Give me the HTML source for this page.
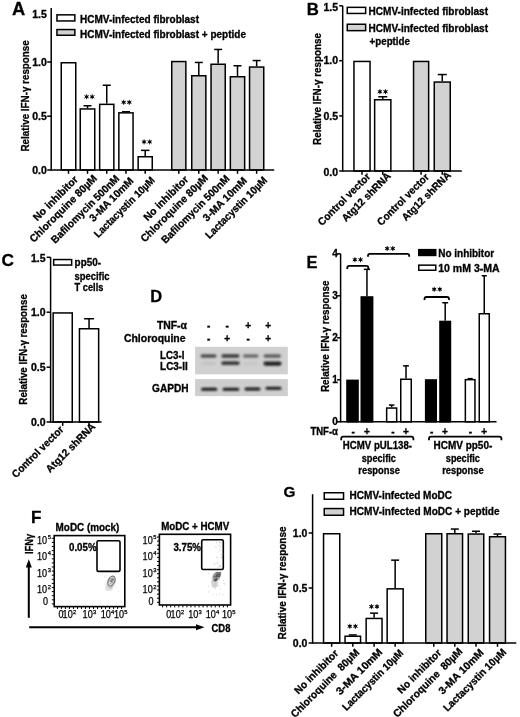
<!DOCTYPE html>
<html><head><meta charset="utf-8"><style>
html,body{margin:0;padding:0;background:#fff;}
svg{display:block;will-change:transform;filter:blur(0.3px);}
text{font-family:"Liberation Sans",sans-serif;}
text[font-weight="bold"]{stroke:#000;stroke-width:0.3px;}
</style></head><body>
<svg width="520" height="717" viewBox="0 0 520 717">
<defs><filter id="bl" x="-30%" y="-100%" width="160%" height="300%"><feGaussianBlur stdDeviation="0.85"/></filter><filter id="bl2" x="-50%" y="-50%" width="200%" height="200%"><feGaussianBlur stdDeviation="0.6"/></filter></defs>
<rect width="520" height="717" fill="#fff"/>
<text x="12" y="14.9" font-size="18.3" font-weight="bold" text-anchor="start" fill="#000">A</text>
<line x1="51.2" y1="8" x2="51.2" y2="170.7" stroke="#000" stroke-width="1.5"/>
<line x1="47.2" y1="62" x2="51.2" y2="62" stroke="#000" stroke-width="1.5"/>
<line x1="47.2" y1="116.2" x2="51.2" y2="116.2" stroke="#000" stroke-width="1.5"/>
<line x1="47.2" y1="170" x2="51.2" y2="170" stroke="#000" stroke-width="1.5"/>
<text x="46.8" y="17.5" font-size="10" font-weight="bold" text-anchor="end" textLength="14.6" lengthAdjust="spacingAndGlyphs" fill="#000">1.5</text>
<text x="46.8" y="65.6" font-size="10" font-weight="bold" text-anchor="end" textLength="14.6" lengthAdjust="spacingAndGlyphs" fill="#000">1.0</text>
<text x="46.8" y="119.9" font-size="10" font-weight="bold" text-anchor="end" textLength="14.6" lengthAdjust="spacingAndGlyphs" fill="#000">0.5</text>
<text x="46.8" y="174.2" font-size="10" font-weight="bold" text-anchor="end" textLength="14.6" lengthAdjust="spacingAndGlyphs" fill="#000">0.0</text>
<text transform="translate(28.6,95.9) rotate(-90)" font-size="10" font-weight="bold" text-anchor="middle" textLength="111.3" lengthAdjust="spacingAndGlyphs">Relative IFN-&#947; response</text>
<rect x="56.95" y="14.85" width="17.9" height="6.1" fill="#fff" stroke="#000" stroke-width="1.5"/>
<rect x="56.95" y="29.55" width="17.9" height="5.7" fill="#d2d2d2" stroke="#000" stroke-width="1.5"/>
<text x="80" y="23" font-size="10" font-weight="bold" text-anchor="start" textLength="119" lengthAdjust="spacingAndGlyphs" fill="#000">HCMV-infected fibroblast</text>
<text x="80" y="37.6" font-size="10" font-weight="bold" text-anchor="start" textLength="166" lengthAdjust="spacingAndGlyphs" fill="#000">HCMV-infected fibroblast + peptide</text>
<line x1="87.5" y1="108.2" x2="87.5" y2="105.75" stroke="#000" stroke-width="1.5"/>
<line x1="83.5" y1="105.75" x2="91.5" y2="105.75" stroke="#000" stroke-width="1.5"/>
<line x1="106.75" y1="103.6" x2="106.75" y2="85.25" stroke="#000" stroke-width="1.5"/>
<line x1="102.75" y1="85.25" x2="110.75" y2="85.25" stroke="#000" stroke-width="1.5"/>
<line x1="125.95" y1="112.1" x2="125.95" y2="111.75" stroke="#000" stroke-width="1.5"/>
<line x1="121.95" y1="111.75" x2="129.95" y2="111.75" stroke="#000" stroke-width="1.5"/>
<line x1="145.2" y1="156" x2="145.2" y2="150.35" stroke="#000" stroke-width="1.5"/>
<line x1="140.95" y1="150.35" x2="149.45" y2="150.35" stroke="#000" stroke-width="1.5"/>
<line x1="198.8" y1="75" x2="198.8" y2="62.45" stroke="#000" stroke-width="1.5"/>
<line x1="194.8" y1="62.45" x2="202.8" y2="62.45" stroke="#000" stroke-width="1.5"/>
<line x1="218.15" y1="63.5" x2="218.15" y2="49.45" stroke="#000" stroke-width="1.5"/>
<line x1="214.15" y1="49.45" x2="222.15" y2="49.45" stroke="#000" stroke-width="1.5"/>
<line x1="237.5" y1="76" x2="237.5" y2="65.75" stroke="#000" stroke-width="1.5"/>
<line x1="233.5" y1="65.75" x2="241.5" y2="65.75" stroke="#000" stroke-width="1.5"/>
<line x1="256.65" y1="66.3" x2="256.65" y2="60.55" stroke="#000" stroke-width="1.5"/>
<line x1="252.65" y1="60.55" x2="260.65" y2="60.55" stroke="#000" stroke-width="1.5"/>
<rect x="61.25" y="62.75" width="14.5" height="107.25" fill="#fff" stroke="#000" stroke-width="1.5"/>
<rect x="80.25" y="108.95" width="14.5" height="61.05" fill="#fff" stroke="#000" stroke-width="1.5"/>
<rect x="99.65" y="104.35" width="14.2" height="65.65" fill="#fff" stroke="#000" stroke-width="1.5"/>
<rect x="118.85" y="112.85" width="14.2" height="57.15" fill="#fff" stroke="#000" stroke-width="1.5"/>
<rect x="138.15" y="156.75" width="14.1" height="13.25" fill="#fff" stroke="#000" stroke-width="1.5"/>
<rect x="171.75" y="61.55" width="14.1" height="108.45" fill="#d2d2d2" stroke="#000" stroke-width="1.5"/>
<rect x="191.75" y="75.75" width="14.1" height="94.25" fill="#d2d2d2" stroke="#000" stroke-width="1.5"/>
<rect x="211.05" y="64.25" width="14.2" height="105.75" fill="#d2d2d2" stroke="#000" stroke-width="1.5"/>
<rect x="230.35" y="76.75" width="14.3" height="93.25" fill="#d2d2d2" stroke="#000" stroke-width="1.5"/>
<rect x="249.55" y="67.05" width="14.2" height="102.95" fill="#d2d2d2" stroke="#000" stroke-width="1.5"/>
<line x1="51.2" y1="170" x2="274.2" y2="170" stroke="#000" stroke-width="1.5"/>
<line x1="68.5" y1="170" x2="68.5" y2="173.8" stroke="#000" stroke-width="1.5"/>
<line x1="87.5" y1="170" x2="87.5" y2="173.8" stroke="#000" stroke-width="1.5"/>
<line x1="106.75" y1="170" x2="106.75" y2="173.8" stroke="#000" stroke-width="1.5"/>
<line x1="125.95" y1="170" x2="125.95" y2="173.8" stroke="#000" stroke-width="1.5"/>
<line x1="145.2" y1="170" x2="145.2" y2="173.8" stroke="#000" stroke-width="1.5"/>
<line x1="178.8" y1="170" x2="178.8" y2="173.8" stroke="#000" stroke-width="1.5"/>
<line x1="198.8" y1="170" x2="198.8" y2="173.8" stroke="#000" stroke-width="1.5"/>
<line x1="218.15" y1="170" x2="218.15" y2="173.8" stroke="#000" stroke-width="1.5"/>
<line x1="237.5" y1="170" x2="237.5" y2="173.8" stroke="#000" stroke-width="1.5"/>
<line x1="256.65" y1="170" x2="256.65" y2="173.8" stroke="#000" stroke-width="1.5"/>
<circle cx="86.6" cy="96.8" r="1.35" fill="#000"/>
<path d="M86.6,94.7V98.9M84.75,95.75L88.45,97.85M84.75,97.85L88.45,95.75" stroke="#000" stroke-width="0.9" stroke-linecap="round"/>
<circle cx="92.2" cy="96.8" r="1.35" fill="#000"/>
<path d="M92.2,94.7V98.9M90.35,95.75L94.05,97.85M90.35,97.85L94.05,95.75" stroke="#000" stroke-width="0.9" stroke-linecap="round"/>
<circle cx="123.7" cy="102.3" r="1.35" fill="#000"/>
<path d="M123.7,100.2V104.4M121.85,101.25L125.55,103.35M121.85,103.35L125.55,101.25" stroke="#000" stroke-width="0.9" stroke-linecap="round"/>
<circle cx="129.3" cy="102.3" r="1.35" fill="#000"/>
<path d="M129.3,100.2V104.4M127.45,101.25L131.15,103.35M127.45,103.35L131.15,101.25" stroke="#000" stroke-width="0.9" stroke-linecap="round"/>
<circle cx="144.1" cy="141.9" r="1.35" fill="#000"/>
<path d="M144.1,139.8V144M142.25,140.85L145.95,142.95M142.25,142.95L145.95,140.85" stroke="#000" stroke-width="0.9" stroke-linecap="round"/>
<circle cx="149.7" cy="141.9" r="1.35" fill="#000"/>
<path d="M149.7,139.8V144M147.85,140.85L151.55,142.95M147.85,142.95L151.55,140.85" stroke="#000" stroke-width="0.9" stroke-linecap="round"/>
<text x="306.8" y="15" font-size="16.8" font-weight="bold" text-anchor="start" fill="#000">B</text>
<line x1="342.7" y1="5.8" x2="342.7" y2="171.7" stroke="#000" stroke-width="1.5"/>
<line x1="339.2" y1="5.8" x2="342.7" y2="5.8" stroke="#000" stroke-width="1.5"/>
<line x1="339.2" y1="60.7" x2="342.7" y2="60.7" stroke="#000" stroke-width="1.5"/>
<line x1="339.2" y1="115.9" x2="342.7" y2="115.9" stroke="#000" stroke-width="1.5"/>
<line x1="339.2" y1="171" x2="342.7" y2="171" stroke="#000" stroke-width="1.5"/>
<text x="338" y="10.5" font-size="10" font-weight="bold" text-anchor="end" textLength="14.6" lengthAdjust="spacingAndGlyphs" fill="#000">1.5</text>
<text x="338" y="64.4" font-size="10" font-weight="bold" text-anchor="end" textLength="14.6" lengthAdjust="spacingAndGlyphs" fill="#000">1.0</text>
<text x="338" y="119.6" font-size="10" font-weight="bold" text-anchor="end" textLength="14.6" lengthAdjust="spacingAndGlyphs" fill="#000">0.5</text>
<text x="338" y="175.6" font-size="10" font-weight="bold" text-anchor="end" textLength="14.6" lengthAdjust="spacingAndGlyphs" fill="#000">0.0</text>
<text transform="translate(321.2,88.9) rotate(-90)" font-size="10" font-weight="bold" text-anchor="middle" textLength="112" lengthAdjust="spacingAndGlyphs">Relative IFN-&#947; response</text>
<rect x="347.25" y="7.35" width="18.4" height="6.1" fill="#fff" stroke="#000" stroke-width="1.5"/>
<rect x="347.25" y="24.25" width="18.4" height="6.4" fill="#d2d2d2" stroke="#000" stroke-width="1.5"/>
<text x="368.5" y="14.9" font-size="10" font-weight="bold" text-anchor="start" textLength="119.5" lengthAdjust="spacingAndGlyphs" fill="#000">HCMV-infected fibroblast</text>
<text x="368.5" y="31.7" font-size="10" font-weight="bold" text-anchor="start" textLength="119.5" lengthAdjust="spacingAndGlyphs" fill="#000">HCMV-infected fibroblast</text>
<text x="369.5" y="45.3" font-size="10" font-weight="bold" text-anchor="start" textLength="40.5" lengthAdjust="spacingAndGlyphs" fill="#000">+peptide</text>
<line x1="382.75" y1="99" x2="382.75" y2="96.75" stroke="#000" stroke-width="1.5"/>
<line x1="378.25" y1="96.75" x2="387.25" y2="96.75" stroke="#000" stroke-width="1.5"/>
<line x1="442.25" y1="81.3" x2="442.25" y2="74.55" stroke="#000" stroke-width="1.5"/>
<line x1="437.75" y1="74.55" x2="446.75" y2="74.55" stroke="#000" stroke-width="1.5"/>
<rect x="353.95" y="61.45" width="16.1" height="109.55" fill="#fff" stroke="#000" stroke-width="1.5"/>
<rect x="374.65" y="99.75" width="16.2" height="71.25" fill="#fff" stroke="#000" stroke-width="1.5"/>
<rect x="413.55" y="61.45" width="15.1" height="109.55" fill="#d2d2d2" stroke="#000" stroke-width="1.5"/>
<rect x="434.25" y="82.05" width="16" height="88.95" fill="#d2d2d2" stroke="#000" stroke-width="1.5"/>
<line x1="342.7" y1="171" x2="461.8" y2="171" stroke="#000" stroke-width="1.5"/>
<line x1="362" y1="171" x2="362" y2="174.8" stroke="#000" stroke-width="1.5"/>
<line x1="382.75" y1="171" x2="382.75" y2="174.8" stroke="#000" stroke-width="1.5"/>
<line x1="421.1" y1="171" x2="421.1" y2="174.8" stroke="#000" stroke-width="1.5"/>
<line x1="442.25" y1="171" x2="442.25" y2="174.8" stroke="#000" stroke-width="1.5"/>
<circle cx="379.9" cy="91.7" r="1.35" fill="#000"/>
<path d="M379.9,89.6V93.8M378.05,90.65L381.75,92.75M378.05,92.75L381.75,90.65" stroke="#000" stroke-width="0.9" stroke-linecap="round"/>
<circle cx="385.5" cy="91.7" r="1.35" fill="#000"/>
<path d="M385.5,89.6V93.8M383.65,90.65L387.35,92.75M383.65,92.75L387.35,90.65" stroke="#000" stroke-width="0.9" stroke-linecap="round"/>
<text x="1.4" y="266.3" font-size="17.3" font-weight="bold" text-anchor="start" fill="#000">C</text>
<line x1="50.6" y1="257.3" x2="50.6" y2="422.7" stroke="#000" stroke-width="1.5"/>
<line x1="46.6" y1="257.3" x2="50.6" y2="257.3" stroke="#000" stroke-width="1.5"/>
<line x1="46.6" y1="312.2" x2="50.6" y2="312.2" stroke="#000" stroke-width="1.5"/>
<line x1="46.6" y1="367.2" x2="50.6" y2="367.2" stroke="#000" stroke-width="1.5"/>
<line x1="46.6" y1="422" x2="50.6" y2="422" stroke="#000" stroke-width="1.5"/>
<text x="45.6" y="262.4" font-size="10" font-weight="bold" text-anchor="end" textLength="14.6" lengthAdjust="spacingAndGlyphs" fill="#000">1.5</text>
<text x="45.6" y="316" font-size="10" font-weight="bold" text-anchor="end" textLength="14.6" lengthAdjust="spacingAndGlyphs" fill="#000">1.0</text>
<text x="45.6" y="370.8" font-size="10" font-weight="bold" text-anchor="end" textLength="14.6" lengthAdjust="spacingAndGlyphs" fill="#000">0.5</text>
<text x="45.6" y="425.6" font-size="10" font-weight="bold" text-anchor="end" textLength="14.6" lengthAdjust="spacingAndGlyphs" fill="#000">0.0</text>
<text transform="translate(27,349.4) rotate(-90)" font-size="10" font-weight="bold" text-anchor="middle" textLength="110.5" lengthAdjust="spacingAndGlyphs">Relative IFN-&#947; response</text>
<rect x="53.65" y="259.55" width="18" height="5.5" fill="#fff" stroke="#000" stroke-width="1.5"/>
<text x="74.6" y="266.4" font-size="10" font-weight="bold" text-anchor="start" textLength="26.4" lengthAdjust="spacingAndGlyphs" fill="#000">pp50-</text>
<text x="74.6" y="279.6" font-size="10" font-weight="bold" text-anchor="start" textLength="35" lengthAdjust="spacingAndGlyphs" fill="#000">specific</text>
<text x="74.6" y="290.9" font-size="10" font-weight="bold" text-anchor="start" textLength="28.8" lengthAdjust="spacingAndGlyphs" fill="#000">T cells</text>
<line x1="89.05" y1="328" x2="89.05" y2="318.75" stroke="#000" stroke-width="1.5"/>
<line x1="84.05" y1="318.75" x2="94.05" y2="318.75" stroke="#000" stroke-width="1.5"/>
<rect x="53.15" y="312.95" width="19.1" height="109.05" fill="#fff" stroke="#000" stroke-width="1.5"/>
<rect x="79.45" y="328.75" width="19.2" height="93.25" fill="#fff" stroke="#000" stroke-width="1.5"/>
<line x1="50.6" y1="422" x2="101.6" y2="422" stroke="#000" stroke-width="1.5"/>
<line x1="62.7" y1="422" x2="62.7" y2="425.8" stroke="#000" stroke-width="1.5"/>
<line x1="89.05" y1="422" x2="89.05" y2="425.8" stroke="#000" stroke-width="1.5"/>
<text x="150.3" y="301.8" font-size="16.5" font-weight="bold" text-anchor="start" fill="#000">D</text>
<text x="187" y="328.6" font-size="10" font-weight="bold" text-anchor="end" textLength="30.1" lengthAdjust="spacingAndGlyphs" fill="#000">TNF-&#945;</text>
<text x="185.6" y="341.6" font-size="10" font-weight="bold" text-anchor="end" textLength="61.7" lengthAdjust="spacingAndGlyphs" fill="#000">Chloroquine</text>
<text x="160.1" y="359" font-size="10" font-weight="bold" text-anchor="start" textLength="24.3" lengthAdjust="spacingAndGlyphs" fill="#000">LC3-I</text>
<text x="160.1" y="369.6" font-size="10" font-weight="bold" text-anchor="start" textLength="27.6" lengthAdjust="spacingAndGlyphs" fill="#000">LC3-II</text>
<text x="188.6" y="391.7" font-size="10" font-weight="bold" text-anchor="end" textLength="36.5" lengthAdjust="spacingAndGlyphs" fill="#000">GAPDH</text>
<text x="208.6" y="328.6" font-size="10" font-weight="bold" text-anchor="middle" fill="#000">-</text>
<text x="208.6" y="341.6" font-size="10" font-weight="bold" text-anchor="middle" fill="#000">-</text>
<text x="227.2" y="328.6" font-size="10" font-weight="bold" text-anchor="middle" fill="#000">-</text>
<text x="227.2" y="341.6" font-size="10" font-weight="bold" text-anchor="middle" fill="#000">+</text>
<text x="248.1" y="328.6" font-size="10" font-weight="bold" text-anchor="middle" fill="#000">+</text>
<text x="248.1" y="341.6" font-size="10" font-weight="bold" text-anchor="middle" fill="#000">-</text>
<text x="268.2" y="328.6" font-size="10" font-weight="bold" text-anchor="middle" fill="#000">+</text>
<text x="268.2" y="341.6" font-size="10" font-weight="bold" text-anchor="middle" fill="#000">+</text>
<rect x="195.1" y="346.8" width="92.7" height="27.5" fill="#d0d0d0"/>
<rect x="195.1" y="379.1" width="92.7" height="17" fill="#cecece"/>
<rect x="200.5" y="354.2" width="16" height="3.6" rx="1.8" fill="#383838" opacity="0.85" filter="url(#bl)"/>
<rect x="221.3" y="354.1" width="18.3" height="3.8" rx="1.9" fill="#333333" opacity="0.85" filter="url(#bl)"/>
<rect x="243" y="354.3" width="15.5" height="3.4" rx="1.7" fill="#4a4a4a" opacity="0.75" filter="url(#bl)"/>
<rect x="263.5" y="354.2" width="17.5" height="3.6" rx="1.8" fill="#404040" opacity="0.8" filter="url(#bl)"/>
<rect x="202" y="361.8" width="14" height="3.2" rx="1.6" fill="#909090" opacity="0.2" filter="url(#bl)"/>
<rect x="221.3" y="361.3" width="18.3" height="3.8" rx="1.9" fill="#2a2a2a" opacity="0.9" filter="url(#bl)"/>
<rect x="244" y="362" width="14" height="3.2" rx="1.6" fill="#909090" opacity="0.16" filter="url(#bl)"/>
<rect x="263.5" y="361.5" width="18" height="4.2" rx="2.1" fill="#181818" opacity="0.95" filter="url(#bl)"/>
<rect x="201.1" y="387.8" width="16.1" height="3" rx="1.5" fill="#101010" opacity="0.95" filter="url(#bl)"/>
<rect x="222.6" y="387.8" width="16.7" height="3" rx="1.5" fill="#141414" opacity="0.95" filter="url(#bl)"/>
<rect x="244.5" y="387.4" width="16" height="3.2" rx="1.6" fill="#080808" opacity="0.95" filter="url(#bl)"/>
<rect x="265.5" y="386.8" width="16" height="3" rx="1.5" fill="#141414" opacity="0.95" filter="url(#bl)"/>
<text x="306.4" y="267.6" font-size="16.5" font-weight="bold" text-anchor="start" fill="#000">E</text>
<line x1="340.6" y1="253.8" x2="340.6" y2="422.5" stroke="#000" stroke-width="1.5"/>
<line x1="337.1" y1="421.8" x2="340.6" y2="421.8" stroke="#000" stroke-width="1.5"/>
<text x="337.8" y="425.4" font-size="10" font-weight="bold" text-anchor="end" fill="#000">0</text>
<line x1="337.1" y1="379.8" x2="340.6" y2="379.8" stroke="#000" stroke-width="1.5"/>
<text x="337.8" y="383.4" font-size="10" font-weight="bold" text-anchor="end" fill="#000">1</text>
<line x1="337.1" y1="337.8" x2="340.6" y2="337.8" stroke="#000" stroke-width="1.5"/>
<text x="337.8" y="341.4" font-size="10" font-weight="bold" text-anchor="end" fill="#000">2</text>
<line x1="337.1" y1="295.8" x2="340.6" y2="295.8" stroke="#000" stroke-width="1.5"/>
<text x="337.8" y="299.4" font-size="10" font-weight="bold" text-anchor="end" fill="#000">3</text>
<line x1="337.1" y1="253.8" x2="340.6" y2="253.8" stroke="#000" stroke-width="1.5"/>
<text x="337.8" y="257.4" font-size="10" font-weight="bold" text-anchor="end" fill="#000">4</text>
<text transform="translate(329.3,336.3) rotate(-90)" font-size="10" font-weight="bold" text-anchor="middle" textLength="111.5" lengthAdjust="spacingAndGlyphs">Relative IFN-&#947; response</text>
<rect x="418.75" y="249.65" width="17" height="5.8" fill="#000" stroke="#000" stroke-width="1.5"/>
<rect x="418.75" y="265.15" width="17" height="5.1" fill="#fff" stroke="#000" stroke-width="1.5"/>
<text x="438.2" y="257.2" font-size="10" font-weight="bold" text-anchor="start" textLength="56" lengthAdjust="spacingAndGlyphs" fill="#000">No inhibitor</text>
<text x="438.2" y="272.1" font-size="10" font-weight="bold" text-anchor="start" textLength="61.5" lengthAdjust="spacingAndGlyphs" fill="#000">10 mM 3-MA</text>
<line x1="366.95" y1="296.2" x2="366.95" y2="269.35" stroke="#000" stroke-width="1.5"/>
<line x1="363.85" y1="269.35" x2="370.05" y2="269.35" stroke="#000" stroke-width="1.5"/>
<line x1="391.65" y1="407.3" x2="391.65" y2="405.05" stroke="#000" stroke-width="1.5"/>
<line x1="388.9" y1="405.05" x2="394.4" y2="405.05" stroke="#000" stroke-width="1.5"/>
<line x1="406" y1="378.5" x2="406" y2="365.85" stroke="#000" stroke-width="1.5"/>
<line x1="403.1" y1="365.85" x2="408.9" y2="365.85" stroke="#000" stroke-width="1.5"/>
<line x1="445.2" y1="320.7" x2="445.2" y2="302.75" stroke="#000" stroke-width="1.5"/>
<line x1="442.3" y1="302.75" x2="448.1" y2="302.75" stroke="#000" stroke-width="1.5"/>
<line x1="470.15" y1="378.9" x2="470.15" y2="378.65" stroke="#000" stroke-width="1.5"/>
<line x1="467.65" y1="378.65" x2="472.65" y2="378.65" stroke="#000" stroke-width="1.5"/>
<line x1="484.25" y1="313" x2="484.25" y2="275.75" stroke="#000" stroke-width="1.5"/>
<line x1="481.7" y1="275.75" x2="486.8" y2="275.75" stroke="#000" stroke-width="1.5"/>
<rect x="346.95" y="380.35" width="11.1" height="41.45" fill="#000" stroke="#000" stroke-width="1.5"/>
<rect x="361.25" y="296.95" width="11.4" height="124.85" fill="#000" stroke="#000" stroke-width="1.5"/>
<rect x="386.65" y="408.05" width="10" height="13.75" fill="#fff" stroke="#000" stroke-width="1.5"/>
<rect x="400.75" y="379.25" width="10.5" height="42.55" fill="#fff" stroke="#000" stroke-width="1.5"/>
<rect x="425.65" y="379.95" width="10.6" height="41.85" fill="#000" stroke="#000" stroke-width="1.5"/>
<rect x="439.95" y="321.45" width="10.5" height="100.35" fill="#000" stroke="#000" stroke-width="1.5"/>
<rect x="465.35" y="379.65" width="9.6" height="42.15" fill="#fff" stroke="#000" stroke-width="1.5"/>
<rect x="479.25" y="313.75" width="10" height="108.05" fill="#fff" stroke="#000" stroke-width="1.5"/>
<line x1="340.6" y1="421.8" x2="496.5" y2="421.8" stroke="#000" stroke-width="1.5"/>
<path d="M347.3,269 L347.3,267.8 Q347.3,265.8 349.3,265.8 L366.3,265.8 Q368.3,265.8 368.3,267.8 L368.3,269" fill="none" stroke="#000" stroke-width="1.8"/>
<path d="M368,256.8 L368,255.8 Q368,253.8 370,253.8 L407.2,253.8 Q409.2,253.8 409.2,255.8 L409.2,256.8" fill="none" stroke="#000" stroke-width="1.8"/>
<path d="M424.5,300 L424.5,299 Q424.5,297 426.5,297 L447,297 Q449,297 449,299 L449,300" fill="none" stroke="#000" stroke-width="1.8"/>
<circle cx="354.9" cy="259.7" r="1.35" fill="#000"/>
<path d="M354.9,257.6V261.8M353.05,258.65L356.75,260.75M353.05,260.75L356.75,258.65" stroke="#000" stroke-width="0.9" stroke-linecap="round"/>
<circle cx="360.5" cy="259.7" r="1.35" fill="#000"/>
<path d="M360.5,257.6V261.8M358.65,258.65L362.35,260.75M358.65,260.75L362.35,258.65" stroke="#000" stroke-width="0.9" stroke-linecap="round"/>
<circle cx="387.2" cy="248.5" r="1.35" fill="#000"/>
<path d="M387.2,246.4V250.6M385.35,247.45L389.05,249.55M385.35,249.55L389.05,247.45" stroke="#000" stroke-width="0.9" stroke-linecap="round"/>
<circle cx="392.8" cy="248.5" r="1.35" fill="#000"/>
<path d="M392.8,246.4V250.6M390.95,247.45L394.65,249.55M390.95,249.55L394.65,247.45" stroke="#000" stroke-width="0.9" stroke-linecap="round"/>
<circle cx="434.2" cy="289.3" r="1.35" fill="#000"/>
<path d="M434.2,287.2V291.4M432.35,288.25L436.05,290.35M432.35,290.35L436.05,288.25" stroke="#000" stroke-width="0.9" stroke-linecap="round"/>
<circle cx="439.8" cy="289.3" r="1.35" fill="#000"/>
<path d="M439.8,287.2V291.4M437.95,288.25L441.65,290.35M437.95,290.35L441.65,288.25" stroke="#000" stroke-width="0.9" stroke-linecap="round"/>
<text x="338" y="435" font-size="10" font-weight="bold" text-anchor="end" textLength="27.6" lengthAdjust="spacingAndGlyphs" fill="#000">TNF-&#945;</text>
<text x="353.2" y="435" font-size="10" font-weight="bold" text-anchor="middle" fill="#000">-</text>
<text x="366.8" y="435" font-size="10" font-weight="bold" text-anchor="middle" fill="#000">+</text>
<text x="393" y="435" font-size="10" font-weight="bold" text-anchor="middle" fill="#000">-</text>
<text x="405.8" y="435" font-size="10" font-weight="bold" text-anchor="middle" fill="#000">+</text>
<text x="431.6" y="435" font-size="10" font-weight="bold" text-anchor="middle" fill="#000">-</text>
<text x="445" y="435" font-size="10" font-weight="bold" text-anchor="middle" fill="#000">+</text>
<text x="470.4" y="435" font-size="10" font-weight="bold" text-anchor="middle" fill="#000">-</text>
<text x="484.2" y="435" font-size="10" font-weight="bold" text-anchor="middle" fill="#000">+</text>
<path d="M341.2,440.2 L341.2,438.6 Q341.2,436.6 343.2,436.6 L411.4,436.6 Q413.4,436.6 413.4,438.6 L413.4,440.2" fill="none" stroke="#000" stroke-width="1.8"/>
<path d="M429,440.2 L429,438.6 Q429,436.6 431,436.6 L499.4,436.6 Q501.4,436.6 501.4,438.6 L501.4,440.2" fill="none" stroke="#000" stroke-width="1.8"/>
<text x="377.4" y="448.7" font-size="10" font-weight="bold" text-anchor="middle" textLength="69.2" lengthAdjust="spacingAndGlyphs" fill="#000">HCMV pUL138-</text>
<text x="378.8" y="461.6" font-size="10" font-weight="bold" text-anchor="middle" textLength="34.1" lengthAdjust="spacingAndGlyphs" fill="#000">specific</text>
<text x="379.1" y="473.8" font-size="10" font-weight="bold" text-anchor="middle" textLength="41.5" lengthAdjust="spacingAndGlyphs" fill="#000">response</text>
<text x="462.9" y="448.7" font-size="10" font-weight="bold" text-anchor="middle" textLength="58.8" lengthAdjust="spacingAndGlyphs" fill="#000">HCMV pp50-</text>
<text x="462.9" y="461.6" font-size="10" font-weight="bold" text-anchor="middle" textLength="34.1" lengthAdjust="spacingAndGlyphs" fill="#000">specific</text>
<text x="462.9" y="473.8" font-size="10" font-weight="bold" text-anchor="middle" textLength="41.5" lengthAdjust="spacingAndGlyphs" fill="#000">response</text>
<text x="31" y="522.5" font-size="17" font-weight="bold" text-anchor="start" fill="#000">F</text>
<line x1="28.8" y1="617.8" x2="28.8" y2="566" stroke="#000" stroke-width="2.0"/>
<path d="M28.8,559.3 L25.8,567.5 L31.8,567.5 Z" fill="#000"/>
<line x1="29.2" y1="627.3" x2="197" y2="627.3" stroke="#000" stroke-width="2.0"/>
<path d="M204.5,627.3 L196.0,624.3 L196.0,630.3 Z" fill="#000"/>
<text transform="translate(33.2,544) rotate(-90)" font-size="10" font-weight="bold" text-anchor="middle" textLength="20.2" lengthAdjust="spacingAndGlyphs">IFN&#947;</text>
<text x="230.4" y="632.3" font-size="10" font-weight="bold" text-anchor="end" textLength="18.9" lengthAdjust="spacingAndGlyphs" fill="#000">CD8</text>
<rect x="54.2" y="535.6" width="70.6" height="71" fill="none" stroke="#000" stroke-width="1.6"/>
<line x1="51.8" y1="538.3" x2="53.9" y2="538.3" stroke="#000" stroke-width="1.0"/>
<line x1="51.8" y1="542.4" x2="53.9" y2="542.4" stroke="#000" stroke-width="1.0"/>
<line x1="51.8" y1="546.5" x2="53.9" y2="546.5" stroke="#000" stroke-width="1.0"/>
<line x1="51.8" y1="550.6" x2="53.9" y2="550.6" stroke="#000" stroke-width="1.0"/>
<line x1="51.8" y1="554.7" x2="53.9" y2="554.7" stroke="#000" stroke-width="1.0"/>
<line x1="51.8" y1="558.8" x2="53.9" y2="558.8" stroke="#000" stroke-width="1.0"/>
<line x1="51.8" y1="562.9" x2="53.9" y2="562.9" stroke="#000" stroke-width="1.0"/>
<line x1="51.8" y1="567" x2="53.9" y2="567" stroke="#000" stroke-width="1.0"/>
<line x1="51.8" y1="571.1" x2="53.9" y2="571.1" stroke="#000" stroke-width="1.0"/>
<line x1="51.8" y1="575.2" x2="53.9" y2="575.2" stroke="#000" stroke-width="1.0"/>
<line x1="51.8" y1="579.3" x2="53.9" y2="579.3" stroke="#000" stroke-width="1.0"/>
<line x1="51.8" y1="583.4" x2="53.9" y2="583.4" stroke="#000" stroke-width="1.0"/>
<line x1="51.8" y1="587.5" x2="53.9" y2="587.5" stroke="#000" stroke-width="1.0"/>
<line x1="51.8" y1="591.6" x2="53.9" y2="591.6" stroke="#000" stroke-width="1.0"/>
<line x1="51.8" y1="595.7" x2="53.9" y2="595.7" stroke="#000" stroke-width="1.0"/>
<line x1="51.8" y1="599.8" x2="53.9" y2="599.8" stroke="#000" stroke-width="1.0"/>
<line x1="51.8" y1="603.9" x2="53.9" y2="603.9" stroke="#000" stroke-width="1.0"/>
<line x1="57.4" y1="606.9" x2="57.4" y2="609" stroke="#000" stroke-width="1.0"/>
<line x1="61.41" y1="606.9" x2="61.41" y2="609" stroke="#000" stroke-width="1.0"/>
<line x1="65.42" y1="606.9" x2="65.42" y2="609" stroke="#000" stroke-width="1.0"/>
<line x1="69.44" y1="606.9" x2="69.44" y2="609" stroke="#000" stroke-width="1.0"/>
<line x1="73.45" y1="606.9" x2="73.45" y2="609" stroke="#000" stroke-width="1.0"/>
<line x1="77.46" y1="606.9" x2="77.46" y2="609" stroke="#000" stroke-width="1.0"/>
<line x1="81.47" y1="606.9" x2="81.47" y2="609" stroke="#000" stroke-width="1.0"/>
<line x1="85.49" y1="606.9" x2="85.49" y2="609" stroke="#000" stroke-width="1.0"/>
<line x1="89.5" y1="606.9" x2="89.5" y2="609" stroke="#000" stroke-width="1.0"/>
<line x1="93.51" y1="606.9" x2="93.51" y2="609" stroke="#000" stroke-width="1.0"/>
<line x1="97.52" y1="606.9" x2="97.52" y2="609" stroke="#000" stroke-width="1.0"/>
<line x1="101.54" y1="606.9" x2="101.54" y2="609" stroke="#000" stroke-width="1.0"/>
<line x1="105.55" y1="606.9" x2="105.55" y2="609" stroke="#000" stroke-width="1.0"/>
<line x1="109.56" y1="606.9" x2="109.56" y2="609" stroke="#000" stroke-width="1.0"/>
<line x1="113.57" y1="606.9" x2="113.57" y2="609" stroke="#000" stroke-width="1.0"/>
<line x1="117.59" y1="606.9" x2="117.59" y2="609" stroke="#000" stroke-width="1.0"/>
<line x1="121.6" y1="606.9" x2="121.6" y2="609" stroke="#000" stroke-width="1.0"/>
<text x="37" y="543.5" font-size="10" font-weight="normal" text-anchor="start" textLength="10.1" lengthAdjust="spacingAndGlyphs" stroke="#000" stroke-width="0.25" fill="#000">10</text>
<text x="47.7" y="539.1" font-size="5.8" font-weight="normal" text-anchor="start" stroke="#000" stroke-width="0.25" fill="#000">5</text>
<text x="37" y="559.8" font-size="10" font-weight="normal" text-anchor="start" textLength="10.1" lengthAdjust="spacingAndGlyphs" stroke="#000" stroke-width="0.25" fill="#000">10</text>
<text x="47.7" y="555.4" font-size="5.8" font-weight="normal" text-anchor="start" stroke="#000" stroke-width="0.25" fill="#000">4</text>
<text x="37" y="576.5" font-size="10" font-weight="normal" text-anchor="start" textLength="10.1" lengthAdjust="spacingAndGlyphs" stroke="#000" stroke-width="0.25" fill="#000">10</text>
<text x="47.7" y="572.1" font-size="5.8" font-weight="normal" text-anchor="start" stroke="#000" stroke-width="0.25" fill="#000">3</text>
<text x="37" y="593" font-size="10" font-weight="normal" text-anchor="start" textLength="10.1" lengthAdjust="spacingAndGlyphs" stroke="#000" stroke-width="0.25" fill="#000">10</text>
<text x="47.7" y="588.6" font-size="5.8" font-weight="normal" text-anchor="start" stroke="#000" stroke-width="0.25" fill="#000">2</text>
<text x="43" y="604.5" font-size="10" font-weight="normal" text-anchor="start" textLength="5" lengthAdjust="spacingAndGlyphs" stroke="#000" stroke-width="0.25" fill="#000">0</text>
<text x="58.4" y="618.3" font-size="10" font-weight="normal" text-anchor="start" textLength="5" lengthAdjust="spacingAndGlyphs" stroke="#000" stroke-width="0.25" fill="#000">0</text>
<text x="62.6" y="618.3" font-size="10" font-weight="normal" text-anchor="start" textLength="10.1" lengthAdjust="spacingAndGlyphs" stroke="#000" stroke-width="0.25" fill="#000">10</text>
<text x="72.9" y="614" font-size="5.8" font-weight="normal" text-anchor="start" stroke="#000" stroke-width="0.25" fill="#000">2</text>
<text x="82.6" y="618.3" font-size="10" font-weight="normal" text-anchor="start" textLength="10.1" lengthAdjust="spacingAndGlyphs" stroke="#000" stroke-width="0.25" fill="#000">10</text>
<text x="92.9" y="614" font-size="5.8" font-weight="normal" text-anchor="start" stroke="#000" stroke-width="0.25" fill="#000">3</text>
<text x="100.8" y="618.3" font-size="10" font-weight="normal" text-anchor="start" textLength="10.1" lengthAdjust="spacingAndGlyphs" stroke="#000" stroke-width="0.25" fill="#000">10</text>
<text x="111.1" y="614" font-size="5.8" font-weight="normal" text-anchor="start" stroke="#000" stroke-width="0.25" fill="#000">4</text>
<text x="114" y="618.3" font-size="10" font-weight="normal" text-anchor="start" textLength="10.1" lengthAdjust="spacingAndGlyphs" stroke="#000" stroke-width="0.25" fill="#000">10</text>
<text x="124.3" y="614" font-size="5.8" font-weight="normal" text-anchor="start" stroke="#000" stroke-width="0.25" fill="#000">5</text>
<rect x="97" y="540.8" width="23" height="30.6" fill="none" stroke="#000" stroke-width="1.6" rx="1.5"/>
<text x="55.6" y="531" font-size="10" font-weight="bold" text-anchor="start" textLength="63.8" lengthAdjust="spacingAndGlyphs" fill="#000">MoDC (mock)</text>
<text x="69" y="551.3" font-size="10" font-weight="bold" text-anchor="start" textLength="27.6" lengthAdjust="spacingAndGlyphs" fill="#000">0.05%</text>
<rect x="159.4" y="534.3" width="71.2" height="70.7" fill="none" stroke="#000" stroke-width="1.6"/>
<line x1="157" y1="537" x2="159.1" y2="537" stroke="#000" stroke-width="1.0"/>
<line x1="157" y1="541.08" x2="159.1" y2="541.08" stroke="#000" stroke-width="1.0"/>
<line x1="157" y1="545.16" x2="159.1" y2="545.16" stroke="#000" stroke-width="1.0"/>
<line x1="157" y1="549.24" x2="159.1" y2="549.24" stroke="#000" stroke-width="1.0"/>
<line x1="157" y1="553.33" x2="159.1" y2="553.33" stroke="#000" stroke-width="1.0"/>
<line x1="157" y1="557.41" x2="159.1" y2="557.41" stroke="#000" stroke-width="1.0"/>
<line x1="157" y1="561.49" x2="159.1" y2="561.49" stroke="#000" stroke-width="1.0"/>
<line x1="157" y1="565.57" x2="159.1" y2="565.57" stroke="#000" stroke-width="1.0"/>
<line x1="157" y1="569.65" x2="159.1" y2="569.65" stroke="#000" stroke-width="1.0"/>
<line x1="157" y1="573.73" x2="159.1" y2="573.73" stroke="#000" stroke-width="1.0"/>
<line x1="157" y1="577.81" x2="159.1" y2="577.81" stroke="#000" stroke-width="1.0"/>
<line x1="157" y1="581.89" x2="159.1" y2="581.89" stroke="#000" stroke-width="1.0"/>
<line x1="157" y1="585.97" x2="159.1" y2="585.97" stroke="#000" stroke-width="1.0"/>
<line x1="157" y1="590.06" x2="159.1" y2="590.06" stroke="#000" stroke-width="1.0"/>
<line x1="157" y1="594.14" x2="159.1" y2="594.14" stroke="#000" stroke-width="1.0"/>
<line x1="157" y1="598.22" x2="159.1" y2="598.22" stroke="#000" stroke-width="1.0"/>
<line x1="157" y1="602.3" x2="159.1" y2="602.3" stroke="#000" stroke-width="1.0"/>
<line x1="162.6" y1="605.3" x2="162.6" y2="607.4" stroke="#000" stroke-width="1.0"/>
<line x1="166.65" y1="605.3" x2="166.65" y2="607.4" stroke="#000" stroke-width="1.0"/>
<line x1="170.7" y1="605.3" x2="170.7" y2="607.4" stroke="#000" stroke-width="1.0"/>
<line x1="174.75" y1="605.3" x2="174.75" y2="607.4" stroke="#000" stroke-width="1.0"/>
<line x1="178.8" y1="605.3" x2="178.8" y2="607.4" stroke="#000" stroke-width="1.0"/>
<line x1="182.85" y1="605.3" x2="182.85" y2="607.4" stroke="#000" stroke-width="1.0"/>
<line x1="186.9" y1="605.3" x2="186.9" y2="607.4" stroke="#000" stroke-width="1.0"/>
<line x1="190.95" y1="605.3" x2="190.95" y2="607.4" stroke="#000" stroke-width="1.0"/>
<line x1="195" y1="605.3" x2="195" y2="607.4" stroke="#000" stroke-width="1.0"/>
<line x1="199.05" y1="605.3" x2="199.05" y2="607.4" stroke="#000" stroke-width="1.0"/>
<line x1="203.1" y1="605.3" x2="203.1" y2="607.4" stroke="#000" stroke-width="1.0"/>
<line x1="207.15" y1="605.3" x2="207.15" y2="607.4" stroke="#000" stroke-width="1.0"/>
<line x1="211.2" y1="605.3" x2="211.2" y2="607.4" stroke="#000" stroke-width="1.0"/>
<line x1="215.25" y1="605.3" x2="215.25" y2="607.4" stroke="#000" stroke-width="1.0"/>
<line x1="219.3" y1="605.3" x2="219.3" y2="607.4" stroke="#000" stroke-width="1.0"/>
<line x1="223.35" y1="605.3" x2="223.35" y2="607.4" stroke="#000" stroke-width="1.0"/>
<line x1="227.4" y1="605.3" x2="227.4" y2="607.4" stroke="#000" stroke-width="1.0"/>
<text x="142.6" y="543.5" font-size="10" font-weight="normal" text-anchor="start" textLength="10.1" lengthAdjust="spacingAndGlyphs" stroke="#000" stroke-width="0.25" fill="#000">10</text>
<text x="153.3" y="539.1" font-size="5.8" font-weight="normal" text-anchor="start" stroke="#000" stroke-width="0.25" fill="#000">5</text>
<text x="142.6" y="559.8" font-size="10" font-weight="normal" text-anchor="start" textLength="10.1" lengthAdjust="spacingAndGlyphs" stroke="#000" stroke-width="0.25" fill="#000">10</text>
<text x="153.3" y="555.4" font-size="5.8" font-weight="normal" text-anchor="start" stroke="#000" stroke-width="0.25" fill="#000">4</text>
<text x="142.6" y="576.5" font-size="10" font-weight="normal" text-anchor="start" textLength="10.1" lengthAdjust="spacingAndGlyphs" stroke="#000" stroke-width="0.25" fill="#000">10</text>
<text x="153.3" y="572.1" font-size="5.8" font-weight="normal" text-anchor="start" stroke="#000" stroke-width="0.25" fill="#000">3</text>
<text x="142.6" y="593" font-size="10" font-weight="normal" text-anchor="start" textLength="10.1" lengthAdjust="spacingAndGlyphs" stroke="#000" stroke-width="0.25" fill="#000">10</text>
<text x="153.3" y="588.6" font-size="5.8" font-weight="normal" text-anchor="start" stroke="#000" stroke-width="0.25" fill="#000">2</text>
<text x="148.6" y="604.5" font-size="10" font-weight="normal" text-anchor="start" textLength="5" lengthAdjust="spacingAndGlyphs" stroke="#000" stroke-width="0.25" fill="#000">0</text>
<text x="166.2" y="618.3" font-size="10" font-weight="normal" text-anchor="start" textLength="5" lengthAdjust="spacingAndGlyphs" stroke="#000" stroke-width="0.25" fill="#000">0</text>
<text x="170.6" y="618.3" font-size="10" font-weight="normal" text-anchor="start" textLength="10.1" lengthAdjust="spacingAndGlyphs" stroke="#000" stroke-width="0.25" fill="#000">10</text>
<text x="180.9" y="614" font-size="5.8" font-weight="normal" text-anchor="start" stroke="#000" stroke-width="0.25" fill="#000">2</text>
<text x="188.2" y="618.3" font-size="10" font-weight="normal" text-anchor="start" textLength="10.1" lengthAdjust="spacingAndGlyphs" stroke="#000" stroke-width="0.25" fill="#000">10</text>
<text x="198.5" y="614" font-size="5.8" font-weight="normal" text-anchor="start" stroke="#000" stroke-width="0.25" fill="#000">3</text>
<text x="205.7" y="618.3" font-size="10" font-weight="normal" text-anchor="start" textLength="10.1" lengthAdjust="spacingAndGlyphs" stroke="#000" stroke-width="0.25" fill="#000">10</text>
<text x="216" y="614" font-size="5.8" font-weight="normal" text-anchor="start" stroke="#000" stroke-width="0.25" fill="#000">4</text>
<text x="222" y="618.3" font-size="10" font-weight="normal" text-anchor="start" textLength="10.1" lengthAdjust="spacingAndGlyphs" stroke="#000" stroke-width="0.25" fill="#000">10</text>
<text x="232.3" y="614" font-size="5.8" font-weight="normal" text-anchor="start" stroke="#000" stroke-width="0.25" fill="#000">5</text>
<rect x="201.7" y="539.8" width="21.6" height="29.7" fill="none" stroke="#000" stroke-width="1.6" rx="1.5"/>
<text x="161.2" y="529.6" font-size="10" font-weight="bold" text-anchor="start" textLength="68" lengthAdjust="spacingAndGlyphs" fill="#000">MoDC + HCMV</text>
<text x="173.4" y="551.3" font-size="10" font-weight="bold" text-anchor="start" textLength="27.6" lengthAdjust="spacingAndGlyphs" fill="#000">3.75%</text>
<g filter="url(#bl2)">
<ellipse cx="111.3" cy="582.0" rx="4.3" ry="6.6" fill="#a8a8a8" opacity="0.45" transform="rotate(25 111.3 582)"/>
<ellipse cx="111.5" cy="581.0" rx="3.2" ry="5.2" fill="none" stroke="#4a4a4a" stroke-width="1.0" opacity="0.75" transform="rotate(25 111.5 581)"/>
<ellipse cx="112.0" cy="580.0" rx="1.4" ry="2.6" fill="#606060" opacity="0.6" transform="rotate(25 112 580)"/>
<ellipse cx="109.0" cy="588.0" rx="4.0" ry="3.0" fill="#c4c4c4" opacity="0.5"/>
<ellipse cx="216.5" cy="576.5" rx="3.6" ry="5.2" fill="#707070" opacity="0.7" transform="rotate(30 216.5 576.5)"/>
<ellipse cx="219.5" cy="574.5" rx="1.6" ry="2.8" fill="#404040" opacity="0.6" transform="rotate(20 219.5 574.5)"/>
<ellipse cx="214.5" cy="583.5" rx="3.2" ry="4.5" fill="#b0b0b0" opacity="0.55"/>
</g>
<circle cx="216.14" cy="556.24" r="0.6" fill="#999" opacity="0.35"/>
<circle cx="217.33" cy="557.91" r="0.6" fill="#999" opacity="0.35"/>
<circle cx="219.63" cy="542.83" r="0.6" fill="#999" opacity="0.35"/>
<circle cx="214.12" cy="564.45" r="0.6" fill="#999" opacity="0.35"/>
<circle cx="216.33" cy="547.56" r="0.6" fill="#999" opacity="0.35"/>
<circle cx="222.96" cy="554.17" r="0.6" fill="#999" opacity="0.35"/>
<circle cx="221.53" cy="554.34" r="0.6" fill="#999" opacity="0.35"/>
<circle cx="219.75" cy="545.22" r="0.6" fill="#999" opacity="0.35"/>
<circle cx="219.71" cy="565.31" r="0.6" fill="#999" opacity="0.35"/>
<circle cx="218.71" cy="561.76" r="0.6" fill="#999" opacity="0.35"/>
<circle cx="220.04" cy="542.79" r="0.6" fill="#999" opacity="0.35"/>
<circle cx="220.82" cy="557.55" r="0.6" fill="#999" opacity="0.35"/>
<circle cx="216.71" cy="541.87" r="0.6" fill="#999" opacity="0.35"/>
<circle cx="221.79" cy="554.24" r="0.6" fill="#999" opacity="0.35"/>
<circle cx="220.47" cy="565.61" r="0.6" fill="#999" opacity="0.35"/>
<circle cx="220.43" cy="566.79" r="0.6" fill="#999" opacity="0.35"/>
<circle cx="217.55" cy="563.43" r="0.6" fill="#999" opacity="0.35"/>
<circle cx="218" cy="567.2" r="0.6" fill="#999" opacity="0.35"/>
<circle cx="221.91" cy="543.73" r="0.6" fill="#999" opacity="0.35"/>
<circle cx="215.22" cy="547.08" r="0.6" fill="#999" opacity="0.35"/>
<circle cx="222.69" cy="553.21" r="0.6" fill="#999" opacity="0.35"/>
<circle cx="219.64" cy="549.43" r="0.6" fill="#999" opacity="0.35"/>
<circle cx="218.57" cy="551.8" r="0.6" fill="#999" opacity="0.35"/>
<circle cx="217.16" cy="557.38" r="0.6" fill="#999" opacity="0.35"/>
<circle cx="219.26" cy="566.32" r="0.6" fill="#999" opacity="0.35"/>
<circle cx="220.14" cy="567.01" r="0.6" fill="#999" opacity="0.35"/>
<circle cx="221.71" cy="568.75" r="0.6" fill="#999" opacity="0.35"/>
<circle cx="220.04" cy="545.57" r="0.6" fill="#999" opacity="0.35"/>
<circle cx="221.75" cy="568.01" r="0.6" fill="#999" opacity="0.35"/>
<circle cx="222.14" cy="556.94" r="0.6" fill="#999" opacity="0.35"/>
<circle cx="220.42" cy="546.91" r="0.6" fill="#999" opacity="0.35"/>
<circle cx="221.48" cy="557.06" r="0.6" fill="#999" opacity="0.35"/>
<circle cx="216.56" cy="542.78" r="0.6" fill="#999" opacity="0.35"/>
<circle cx="221.69" cy="568.71" r="0.6" fill="#999" opacity="0.35"/>
<circle cx="214.8" cy="563.42" r="0.6" fill="#999" opacity="0.35"/>
<circle cx="217.69" cy="545.22" r="0.6" fill="#999" opacity="0.35"/>
<circle cx="216.65" cy="562.53" r="0.6" fill="#999" opacity="0.35"/>
<circle cx="221.85" cy="542.24" r="0.6" fill="#999" opacity="0.35"/>
<circle cx="219.53" cy="542.26" r="0.6" fill="#999" opacity="0.35"/>
<circle cx="220.47" cy="550.27" r="0.6" fill="#999" opacity="0.35"/>
<circle cx="222.98" cy="594.55" r="0.6" fill="#888" opacity="0.35"/>
<circle cx="216.59" cy="594.97" r="0.6" fill="#888" opacity="0.35"/>
<circle cx="213.26" cy="573.77" r="0.6" fill="#888" opacity="0.35"/>
<circle cx="218.2" cy="572.72" r="0.6" fill="#888" opacity="0.35"/>
<circle cx="211.36" cy="581.38" r="0.6" fill="#888" opacity="0.35"/>
<circle cx="218.38" cy="575.59" r="0.6" fill="#888" opacity="0.35"/>
<circle cx="208.72" cy="591.96" r="0.6" fill="#888" opacity="0.35"/>
<circle cx="213.34" cy="594.05" r="0.6" fill="#888" opacity="0.35"/>
<circle cx="223.24" cy="580.69" r="0.6" fill="#888" opacity="0.35"/>
<circle cx="215.83" cy="583.96" r="0.6" fill="#888" opacity="0.35"/>
<circle cx="218.95" cy="585.7" r="0.6" fill="#888" opacity="0.35"/>
<circle cx="217.51" cy="586.26" r="0.6" fill="#888" opacity="0.35"/>
<circle cx="223.99" cy="583.66" r="0.6" fill="#888" opacity="0.35"/>
<circle cx="215.33" cy="588.57" r="0.6" fill="#888" opacity="0.35"/>
<circle cx="212.04" cy="578.92" r="0.6" fill="#888" opacity="0.35"/>
<circle cx="224.62" cy="583.99" r="0.6" fill="#888" opacity="0.35"/>
<circle cx="217.32" cy="572.26" r="0.6" fill="#888" opacity="0.35"/>
<circle cx="215.06" cy="585.34" r="0.6" fill="#888" opacity="0.35"/>
<circle cx="208.34" cy="586.16" r="0.6" fill="#888" opacity="0.35"/>
<circle cx="218.75" cy="573.38" r="0.6" fill="#888" opacity="0.35"/>
<circle cx="218.66" cy="582.72" r="0.6" fill="#888" opacity="0.35"/>
<circle cx="219.55" cy="580.11" r="0.6" fill="#888" opacity="0.35"/>
<circle cx="220.02" cy="588.97" r="0.6" fill="#888" opacity="0.35"/>
<circle cx="208.38" cy="573.39" r="0.6" fill="#888" opacity="0.35"/>
<circle cx="219.49" cy="594.16" r="0.6" fill="#888" opacity="0.35"/>
<circle cx="216.29" cy="580.68" r="0.7" fill="#333" opacity="0.35"/>
<circle cx="214.95" cy="576.54" r="0.7" fill="#333" opacity="0.35"/>
<circle cx="215.25" cy="579.65" r="0.7" fill="#333" opacity="0.35"/>
<circle cx="214.6" cy="580.82" r="0.7" fill="#333" opacity="0.35"/>
<circle cx="215.73" cy="580.31" r="0.7" fill="#333" opacity="0.35"/>
<circle cx="216.34" cy="577.05" r="0.7" fill="#333" opacity="0.35"/>
<circle cx="213.67" cy="576.42" r="0.7" fill="#333" opacity="0.35"/>
<circle cx="215.84" cy="579.43" r="0.7" fill="#333" opacity="0.35"/>
<circle cx="216.74" cy="575.47" r="0.7" fill="#333" opacity="0.35"/>
<circle cx="217.07" cy="580.11" r="0.7" fill="#333" opacity="0.35"/>
<circle cx="216.07" cy="576.52" r="0.7" fill="#333" opacity="0.35"/>
<circle cx="215.57" cy="580.01" r="0.7" fill="#333" opacity="0.35"/>
<circle cx="217.31" cy="574.52" r="0.7" fill="#333" opacity="0.35"/>
<circle cx="216.94" cy="576.06" r="0.7" fill="#333" opacity="0.35"/>
<circle cx="214.92" cy="581.39" r="0.7" fill="#333" opacity="0.35"/>
<circle cx="217.85" cy="574.95" r="0.7" fill="#333" opacity="0.35"/>
<circle cx="216.43" cy="578.7" r="0.7" fill="#333" opacity="0.35"/>
<circle cx="215.19" cy="577.51" r="0.7" fill="#333" opacity="0.35"/>
<circle cx="217.41" cy="572.61" r="0.7" fill="#333" opacity="0.35"/>
<circle cx="216.9" cy="579.38" r="0.7" fill="#333" opacity="0.35"/>
<circle cx="217.23" cy="573.45" r="0.7" fill="#333" opacity="0.35"/>
<circle cx="216.89" cy="574.87" r="0.7" fill="#333" opacity="0.35"/>
<circle cx="217.34" cy="578.88" r="0.7" fill="#333" opacity="0.35"/>
<circle cx="216.69" cy="575.26" r="0.7" fill="#333" opacity="0.35"/>
<circle cx="215.19" cy="580.28" r="0.7" fill="#333" opacity="0.35"/>
<circle cx="214.61" cy="579.43" r="0.7" fill="#333" opacity="0.35"/>
<circle cx="217.16" cy="576.53" r="0.7" fill="#333" opacity="0.35"/>
<circle cx="219.75" cy="576.62" r="0.7" fill="#333" opacity="0.35"/>
<circle cx="218.9" cy="572.99" r="0.7" fill="#333" opacity="0.35"/>
<circle cx="213.12" cy="580.58" r="0.7" fill="#333" opacity="0.35"/>
<circle cx="217.43" cy="576.32" r="0.7" fill="#333" opacity="0.35"/>
<circle cx="216.21" cy="572.67" r="0.7" fill="#333" opacity="0.35"/>
<circle cx="215.12" cy="574.89" r="0.7" fill="#333" opacity="0.35"/>
<circle cx="215.89" cy="580.14" r="0.7" fill="#333" opacity="0.35"/>
<circle cx="216.38" cy="578.31" r="0.7" fill="#333" opacity="0.35"/>
<circle cx="110.06" cy="580.79" r="0.6" fill="#444" opacity="0.3"/>
<circle cx="111.45" cy="581.42" r="0.6" fill="#444" opacity="0.3"/>
<circle cx="113.53" cy="579.58" r="0.6" fill="#444" opacity="0.3"/>
<circle cx="114.18" cy="579.65" r="0.6" fill="#444" opacity="0.3"/>
<circle cx="113.22" cy="579.79" r="0.6" fill="#444" opacity="0.3"/>
<circle cx="114.14" cy="582.37" r="0.6" fill="#444" opacity="0.3"/>
<circle cx="112.01" cy="584.09" r="0.6" fill="#444" opacity="0.3"/>
<circle cx="110.14" cy="579.01" r="0.6" fill="#444" opacity="0.3"/>
<circle cx="108.43" cy="584.71" r="0.6" fill="#444" opacity="0.3"/>
<circle cx="110.04" cy="580.32" r="0.6" fill="#444" opacity="0.3"/>
<circle cx="111.25" cy="586.96" r="0.6" fill="#444" opacity="0.3"/>
<circle cx="108.38" cy="582.66" r="0.6" fill="#444" opacity="0.3"/>
<circle cx="110.63" cy="583.42" r="0.6" fill="#444" opacity="0.3"/>
<circle cx="108.33" cy="580.97" r="0.6" fill="#444" opacity="0.3"/>
<circle cx="112.71" cy="586.11" r="0.6" fill="#444" opacity="0.3"/>
<circle cx="113.95" cy="579.77" r="0.6" fill="#444" opacity="0.3"/>
<circle cx="111.35" cy="581.84" r="0.6" fill="#444" opacity="0.3"/>
<circle cx="109.12" cy="578.41" r="0.6" fill="#444" opacity="0.3"/>
<circle cx="112.64" cy="582.68" r="0.6" fill="#444" opacity="0.3"/>
<circle cx="111.04" cy="585.49" r="0.6" fill="#444" opacity="0.3"/>
<circle cx="110.34" cy="583.46" r="0.55" fill="#999" opacity="0.3"/>
<circle cx="115.65" cy="574.04" r="0.55" fill="#999" opacity="0.3"/>
<circle cx="104.82" cy="576.54" r="0.55" fill="#999" opacity="0.3"/>
<circle cx="105.87" cy="575.37" r="0.55" fill="#999" opacity="0.3"/>
<circle cx="118.62" cy="591.09" r="0.55" fill="#999" opacity="0.3"/>
<circle cx="105.29" cy="584.04" r="0.55" fill="#999" opacity="0.3"/>
<circle cx="108.74" cy="580.29" r="0.55" fill="#999" opacity="0.3"/>
<circle cx="109.27" cy="586.94" r="0.55" fill="#999" opacity="0.3"/>
<circle cx="112.8" cy="581.22" r="0.55" fill="#999" opacity="0.3"/>
<circle cx="106.87" cy="580.58" r="0.55" fill="#999" opacity="0.3"/>
<circle cx="105.86" cy="585.11" r="0.55" fill="#999" opacity="0.3"/>
<circle cx="114.74" cy="581.6" r="0.55" fill="#999" opacity="0.3"/>
<circle cx="105.2" cy="577.57" r="0.55" fill="#999" opacity="0.3"/>
<circle cx="109.6" cy="586.09" r="0.55" fill="#999" opacity="0.3"/>
<circle cx="115.74" cy="581.61" r="0.55" fill="#999" opacity="0.3"/>
<circle cx="116.02" cy="586.46" r="0.55" fill="#999" opacity="0.3"/>
<circle cx="110.47" cy="581.45" r="0.55" fill="#999" opacity="0.3"/>
<circle cx="111.44" cy="588.06" r="0.55" fill="#999" opacity="0.3"/>
<circle cx="110.31" cy="587.88" r="0.55" fill="#999" opacity="0.3"/>
<circle cx="110.91" cy="578.9" r="0.55" fill="#999" opacity="0.3"/>
<text x="283.4" y="497.2" font-size="15.3" font-weight="bold" text-anchor="start" fill="#000">G</text>
<line x1="312.6" y1="494.2" x2="312.6" y2="643.7" stroke="#000" stroke-width="1.5"/>
<line x1="308.6" y1="533" x2="312.6" y2="533" stroke="#000" stroke-width="1.5"/>
<line x1="308.6" y1="588" x2="312.6" y2="588" stroke="#000" stroke-width="1.5"/>
<line x1="308.6" y1="643" x2="312.6" y2="643" stroke="#000" stroke-width="1.5"/>
<text x="307.4" y="536.9" font-size="10" font-weight="bold" text-anchor="end" textLength="14.6" lengthAdjust="spacingAndGlyphs" fill="#000">1.0</text>
<text x="307.4" y="591.9" font-size="10" font-weight="bold" text-anchor="end" textLength="14.6" lengthAdjust="spacingAndGlyphs" fill="#000">0.5</text>
<text x="307.4" y="646.9" font-size="10" font-weight="bold" text-anchor="end" textLength="14.6" lengthAdjust="spacingAndGlyphs" fill="#000">0.0</text>
<text transform="translate(286.3,583) rotate(-90)" font-size="10" font-weight="bold" text-anchor="middle" textLength="113" lengthAdjust="spacingAndGlyphs">Relative IFN-&#947; response</text>
<rect x="324.25" y="492.75" width="19.3" height="6.5" fill="#fff" stroke="#000" stroke-width="1.5"/>
<rect x="324.25" y="508.55" width="19.3" height="6.7" fill="#d2d2d2" stroke="#000" stroke-width="1.5"/>
<text x="349.6" y="499.4" font-size="10" font-weight="bold" text-anchor="start" textLength="102.5" lengthAdjust="spacingAndGlyphs" fill="#000">HCMV-infected MoDC</text>
<text x="349.6" y="515.3" font-size="10" font-weight="bold" text-anchor="start" textLength="150" lengthAdjust="spacingAndGlyphs" fill="#000">HCMV-infected MoDC + peptide</text>
<line x1="352.8" y1="635.5" x2="352.8" y2="634.95" stroke="#000" stroke-width="1.5"/>
<line x1="348.8" y1="634.95" x2="356.8" y2="634.95" stroke="#000" stroke-width="1.5"/>
<line x1="374.1" y1="617.7" x2="374.1" y2="613.15" stroke="#000" stroke-width="1.5"/>
<line x1="370.1" y1="613.15" x2="378.1" y2="613.15" stroke="#000" stroke-width="1.5"/>
<line x1="395.15" y1="588.1" x2="395.15" y2="560.15" stroke="#000" stroke-width="1.5"/>
<line x1="391.15" y1="560.15" x2="399.15" y2="560.15" stroke="#000" stroke-width="1.5"/>
<line x1="454.8" y1="533" x2="454.8" y2="529.05" stroke="#000" stroke-width="1.5"/>
<line x1="450.8" y1="529.05" x2="458.8" y2="529.05" stroke="#000" stroke-width="1.5"/>
<line x1="476" y1="533.3" x2="476" y2="531.25" stroke="#000" stroke-width="1.5"/>
<line x1="472" y1="531.25" x2="480" y2="531.25" stroke="#000" stroke-width="1.5"/>
<line x1="497.5" y1="536" x2="497.5" y2="534.05" stroke="#000" stroke-width="1.5"/>
<line x1="493.5" y1="534.05" x2="501.5" y2="534.05" stroke="#000" stroke-width="1.5"/>
<rect x="323.55" y="533.75" width="16.2" height="109.25" fill="#fff" stroke="#000" stroke-width="1.5"/>
<rect x="345.05" y="636.25" width="15.5" height="6.75" fill="#fff" stroke="#000" stroke-width="1.5"/>
<rect x="366.15" y="618.45" width="15.9" height="24.55" fill="#fff" stroke="#000" stroke-width="1.5"/>
<rect x="387.15" y="588.85" width="16" height="54.15" fill="#fff" stroke="#000" stroke-width="1.5"/>
<rect x="425.75" y="533.75" width="16" height="109.25" fill="#d2d2d2" stroke="#000" stroke-width="1.5"/>
<rect x="447.05" y="533.75" width="15.5" height="109.25" fill="#d2d2d2" stroke="#000" stroke-width="1.5"/>
<rect x="468.25" y="534.05" width="15.5" height="108.95" fill="#d2d2d2" stroke="#000" stroke-width="1.5"/>
<rect x="489.55" y="536.75" width="15.9" height="106.25" fill="#d2d2d2" stroke="#000" stroke-width="1.5"/>
<line x1="312.6" y1="643" x2="516.3" y2="643" stroke="#000" stroke-width="1.5"/>
<line x1="331.65" y1="643" x2="331.65" y2="646.8" stroke="#000" stroke-width="1.5"/>
<line x1="352.8" y1="643" x2="352.8" y2="646.8" stroke="#000" stroke-width="1.5"/>
<line x1="374.1" y1="643" x2="374.1" y2="646.8" stroke="#000" stroke-width="1.5"/>
<line x1="395.15" y1="643" x2="395.15" y2="646.8" stroke="#000" stroke-width="1.5"/>
<line x1="433.75" y1="643" x2="433.75" y2="646.8" stroke="#000" stroke-width="1.5"/>
<line x1="454.8" y1="643" x2="454.8" y2="646.8" stroke="#000" stroke-width="1.5"/>
<line x1="476" y1="643" x2="476" y2="646.8" stroke="#000" stroke-width="1.5"/>
<line x1="497.5" y1="643" x2="497.5" y2="646.8" stroke="#000" stroke-width="1.5"/>
<circle cx="349.8" cy="626.3" r="1.35" fill="#000"/>
<path d="M349.8,624.2V628.4M347.95,625.25L351.65,627.35M347.95,627.35L351.65,625.25" stroke="#000" stroke-width="0.9" stroke-linecap="round"/>
<circle cx="355.4" cy="626.3" r="1.35" fill="#000"/>
<path d="M355.4,624.2V628.4M353.55,625.25L357.25,627.35M353.55,627.35L357.25,625.25" stroke="#000" stroke-width="0.9" stroke-linecap="round"/>
<circle cx="371.4" cy="606.6" r="1.35" fill="#000"/>
<path d="M371.4,604.5V608.7M369.55,605.55L373.25,607.65M369.55,607.65L373.25,605.55" stroke="#000" stroke-width="0.9" stroke-linecap="round"/>
<circle cx="377" cy="606.6" r="1.35" fill="#000"/>
<path d="M377,604.5V608.7M375.15,605.55L378.85,607.65M375.15,607.65L378.85,605.55" stroke="#000" stroke-width="0.9" stroke-linecap="round"/>
<text transform="translate(78.65,180.1) rotate(-45)" font-size="10.5" font-weight="bold" text-anchor="end" textLength="58.5" lengthAdjust="spacingAndGlyphs">No inhibitor</text>
<text transform="translate(97.65,179) rotate(-45)" font-size="10.5" font-weight="bold" text-anchor="end" textLength="90.5" lengthAdjust="spacingAndGlyphs">Chloroquine 80&#181;M</text>
<text transform="translate(120.05,179.2) rotate(-45)" font-size="10.5" font-weight="bold" text-anchor="end" textLength="91.5" lengthAdjust="spacingAndGlyphs">Bafilomycin 500nM</text>
<text transform="translate(134.25,181.5) rotate(-45)" font-size="10.5" font-weight="bold" text-anchor="end" textLength="57.5" lengthAdjust="spacingAndGlyphs">3-MA 10mM</text>
<text transform="translate(155.55,180.95) rotate(-45)" font-size="10.5" font-weight="bold" text-anchor="end" textLength="81" lengthAdjust="spacingAndGlyphs">Lactacystin 10&#181;M</text>
<text transform="translate(189.05,180.1) rotate(-45)" font-size="10.5" font-weight="bold" text-anchor="end" textLength="58.5" lengthAdjust="spacingAndGlyphs">No inhibitor</text>
<text transform="translate(208.65,178.85) rotate(-45)" font-size="10.5" font-weight="bold" text-anchor="end" textLength="90.5" lengthAdjust="spacingAndGlyphs">Chloroquine 80&#181;M</text>
<text transform="translate(230.25,179.35) rotate(-45)" font-size="10.5" font-weight="bold" text-anchor="end" textLength="91.5" lengthAdjust="spacingAndGlyphs">Bafilomycin 500nM</text>
<text transform="translate(247.75,181.3) rotate(-45)" font-size="10.5" font-weight="bold" text-anchor="end" textLength="57.5" lengthAdjust="spacingAndGlyphs">3-MA 10mM</text>
<text transform="translate(267.95,180.95) rotate(-45)" font-size="10.5" font-weight="bold" text-anchor="end" textLength="82.5" lengthAdjust="spacingAndGlyphs">Lactacystin 10&#181;M</text>
<text transform="translate(371.15,177.2) rotate(-45)" font-size="10.5" font-weight="bold" text-anchor="end" textLength="69.5" lengthAdjust="spacingAndGlyphs">Control vector</text>
<text transform="translate(391.5,176.7) rotate(-45)" font-size="10.5" font-weight="bold" text-anchor="end" textLength="64.5" lengthAdjust="spacingAndGlyphs">Atg12 shRNA</text>
<text transform="translate(429.7,177.7) rotate(-45)" font-size="10.5" font-weight="bold" text-anchor="end" textLength="68.5" lengthAdjust="spacingAndGlyphs">Control vector</text>
<text transform="translate(451.55,175.85) rotate(-45)" font-size="10.5" font-weight="bold" text-anchor="end" textLength="64.5" lengthAdjust="spacingAndGlyphs">Atg12 shRNA</text>
<text transform="translate(64.2,430.3) rotate(-45)" font-size="10.5" font-weight="bold" text-anchor="end" textLength="68" lengthAdjust="spacingAndGlyphs">Control vector</text>
<text transform="translate(96.05,427.2) rotate(-45)" font-size="10.5" font-weight="bold" text-anchor="end" textLength="65" lengthAdjust="spacingAndGlyphs">Atg12 shRNA</text>
<text transform="translate(339.05,654.05) rotate(-45)" font-size="10.5" font-weight="bold" text-anchor="end" textLength="57.5" lengthAdjust="spacingAndGlyphs">No inhibitor</text>
<text transform="translate(359.95,653.3) rotate(-45)" font-size="10.5" font-weight="bold" text-anchor="end" textLength="92" lengthAdjust="spacingAndGlyphs">Chloroquine&#160;&#160;80&#181;M</text>
<text transform="translate(383.05,652.7) rotate(-45)" font-size="10.5" font-weight="bold" text-anchor="end" textLength="60.5" lengthAdjust="spacingAndGlyphs">3-MA 10mM</text>
<text transform="translate(404.15,653.65) rotate(-45)" font-size="10.5" font-weight="bold" text-anchor="end" textLength="81.5" lengthAdjust="spacingAndGlyphs">Lactacystin 10&#181;M</text>
<text transform="translate(442.05,653.5) rotate(-45)" font-size="10.5" font-weight="bold" text-anchor="end" textLength="57.5" lengthAdjust="spacingAndGlyphs">No inhibitor</text>
<text transform="translate(463.25,652) rotate(-45)" font-size="10.5" font-weight="bold" text-anchor="end" textLength="93.5" lengthAdjust="spacingAndGlyphs">Chloroquine&#160;&#160;80&#181;M</text>
<text transform="translate(484.4,653.2) rotate(-45)" font-size="10.5" font-weight="bold" text-anchor="end" textLength="59" lengthAdjust="spacingAndGlyphs">3-MA 10mM</text>
<text transform="translate(506.9,652.7) rotate(-45)" font-size="10.5" font-weight="bold" text-anchor="end" textLength="84" lengthAdjust="spacingAndGlyphs">Lactacystin 10&#181;M</text>
</svg>
</body></html>
